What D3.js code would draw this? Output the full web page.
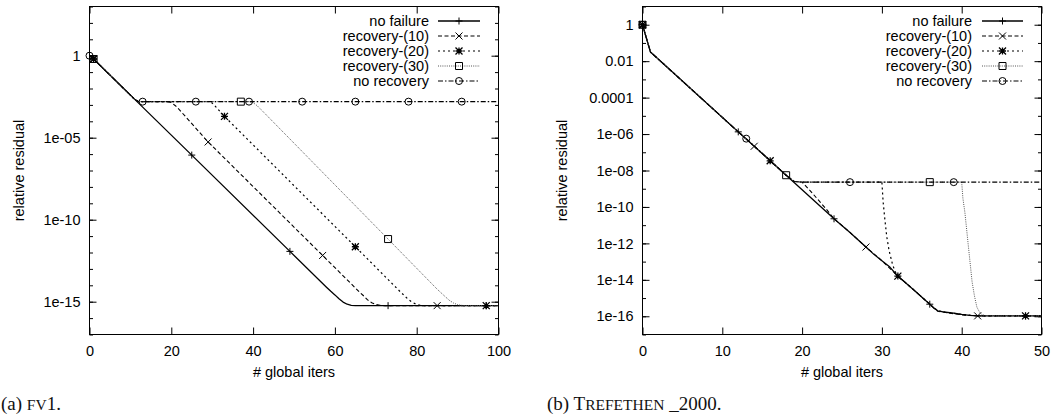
<!DOCTYPE html>
<html><head><meta charset="utf-8">
<script src="https://cdn.jsdelivr.net/npm/d3@7"></script>
<style>
body{margin:0;background:#fff}
svg{display:block}
</style>
</head><body>
<svg id="c" width="1062" height="416"></svg>
<script>
// ---------------- DATA ----------------
const seriesNames = ["no failure", "recovery-(10)", "recovery-(20)", "recovery-(30)", "no recovery"];

// (a) FV1 : [global iteration, relative residual]
const fv1NoFailure = [[1,0.63],[11,2.24e-3],[25,8.7e-7],[49,1.17e-12],[58,7.4e-15],[59,4.3e-15],[60,2.6e-15],[61,1.5e-15],[62,9.5e-16],[63,7.0e-16],[64,6.0e-16],[65,5.8e-16],[73,5.75e-16],[97,5.75e-16],[100,5.75e-16]];
const fv1Rec10 = [[1,0.63],[11,2.24e-3],[12,1.58e-3],[19,1.58e-3],[20,1.4e-3],[21,8.9e-4],[22,5.0e-4],[29,5.5e-6],[57,6.6e-13],[66,3.9e-15],[67,2.3e-15],[68,1.3e-15],[69,8.7e-16],[70,6.8e-16],[71,6.0e-16],[72,5.75e-16],[85,5.75e-16],[100,5.75e-16]];
const fv1Rec20 = [[1,0.63],[11,2.24e-3],[12,1.58e-3],[29,1.58e-3],[30,1.3e-3],[31,7.1e-4],[32,3.7e-4],[33,2.0e-4],[65,2.24e-12],[76,4.0e-15],[77,2.3e-15],[78,1.35e-15],[79,8.9e-16],[80,6.8e-16],[81,6.0e-16],[82,5.75e-16],[97,5.75e-16],[100,5.75e-16]];
const fv1Rec30 = [[1,0.63],[11,2.24e-3],[12,1.58e-3],[37,1.58e-3],[39,1.58e-3],[40,1.38e-3],[41,8.9e-4],[42,5.0e-4],[43,2.8e-4],[73,6.6e-12],[85,5.8e-15],[86,3.4e-15],[87,2.0e-15],[88,1.2e-15],[89,8.3e-16],[90,6.6e-16],[91,6.0e-16],[92,5.75e-16],[100,5.75e-16]];
const fv1NoRec = [[0,1],[1,0.63],[11,2.24e-3],[12,1.58e-3],[13,1.58e-3],[26,1.58e-3],[39,1.58e-3],[52,1.58e-3],[65,1.58e-3],[78,1.58e-3],[91,1.58e-3],[100,1.58e-3]];
const fv1MarkIters = [[1,25,49,73,97],[1,29,57,85],[1,33,65,97],[1,37,73],[0,13,26,39,52,65,78,91]];

// (b) TREFETHEN_2000
const treNoFailure = [[0,1],[1,3.16e-2],[12,1.32e-6],[18,5.5e-9],[24,2.24e-11],[26,4.0e-12],[28,6.3e-13],[29,2.5e-13],[30,1.12e-13],[31,5.0e-14],[32,1.6e-14],[34,2.8e-15],[36,4.6e-16],[36.5,2.9e-16],[37,2.0e-16],[38,1.66e-16],[39,1.5e-16],[40,1.26e-16],[41,1.12e-16],[42,1.05e-16],[48,1.05e-16],[50,1.05e-16]];
const treRec10 = [[0,1],[1,3.16e-2],[12,1.32e-6],[14,2.14e-7],[18,5.5e-9],[19,2.5e-9],[20,2.3e-9],[21,7.9e-10],[22,2.5e-10],[23,7.9e-11],[24,2.24e-11],[26,4.0e-12],[28,6.3e-13],[30,1.12e-13],[32,1.6e-14],[34,2.8e-15],[36,4.6e-16],[36.5,2.8e-16],[37,1.9e-16],[38,1.6e-16],[40,1.2e-16],[42,1.05e-16],[50,1.05e-16]];
const treRec20 = [[0,1],[1,3.16e-2],[12,1.32e-6],[16,3.4e-8],[18,5.5e-9],[19,2.5e-9],[20,2.3e-9],[30,2.3e-9],[30.15,2.0e-10],[30.35,2.5e-11],[30.6,2.5e-12],[30.9,4.0e-13],[31.3,8.0e-14],[31.6,3.2e-14],[32,1.6e-14],[34,2.8e-15],[36,4.6e-16],[36.5,2.9e-16],[37,2.0e-16],[38,1.66e-16],[40,1.26e-16],[42,1.05e-16],[48,1.05e-16],[50,1.05e-16]];
const treRec30 = [[0,1],[1,3.16e-2],[12,1.32e-6],[18,5.5e-9],[19,2.5e-9],[20,2.3e-9],[36,2.3e-9],[40,2.3e-9],[40.15,3.0e-10],[40.4,5.0e-11],[40.8,1.0e-12],[41.3,7.9e-15],[41.6,1.3e-15],[41.9,3.2e-16],[42.2,1.8e-16],[42.5,1.3e-16],[43,1.05e-16],[50,1.05e-16]];
const treNoRec = [[0,1],[1,3.16e-2],[12,1.32e-6],[13,5.6e-7],[18,5.5e-9],[19,2.5e-9],[20,2.3e-9],[26,2.3e-9],[39,2.3e-9],[50,2.3e-9]];
const treMarkIters = [[0,12,24,36,48],[0,14,28,42],[0,16,32,48],[0,18,36],[0,13,26,39]];

// axes
const fv1XTicks = [0, 20, 40, 60, 80, 100];
const fv1YTicks = [1, 1e-5, 1e-10, 1e-15];
const fv1YTickLabels = ["1", "1e-05", "1e-10", "1e-15"];
const fv1YDecades = [-17, 3];
const treXTicks = [0, 10, 20, 30, 40, 50];
const treYTicks = [1, 1e-2, 1e-4, 1e-6, 1e-8, 1e-10, 1e-12, 1e-14, 1e-16];
const treYTickLabels = ["1", "0.01", "0.0001", "1e-06", "1e-08", "1e-10", "1e-12", "1e-14", "1e-16"];
const treYDecades = [-17, 1];

const xTitle = "# global iters";
const yTitle = "relative residual";
// captions: [prefix, small-caps part, suffix]
const capA = ["(a) ", "", "FV", "1."];
const capB = ["(b) ", "T", "REFETHEN", " _2000."];

// ---------------- STYLE ----------------
const FONT = '"Liberation Sans", Arial, Helvetica, sans-serif';
const SERIF = '"Liberation Serif", "DejaVu Serif", serif';
const FS = 14.5;
const styles = [
  {dash: null, width: 1.3, color: "#000", sym: "plus"},
  {dash: "4,2.5", width: 1.1, color: "#000", sym: "cross"},
  {dash: "2,3", width: 1.2, color: "#000", sym: "star"},
  {dash: "1,1.2", width: 1.0, color: "#555", sym: "square"},
  {dash: "5,2,1.5,2", width: 1.1, color: "#000", sym: "circle"}
];

const svg = d3.select("#c");

function drawSym(g, type, cx, cy, s) {
  const t = `translate(${cx},${cy})`;
  const plus = `M${-s},0H${s}M0,${-s}V${s}`;
  const cross = `M${-s},${-s}L${s},${s}M${-s},${s}L${s},${-s}`;
  if (type === "circle") {
    g.append("circle").attr("cx", cx).attr("cy", cy).attr("r", s)
      .attr("fill", "none").attr("stroke", "#000").attr("stroke-width", 1);
    return;
  }
  let d;
  if (type === "plus") d = plus;
  else if (type === "cross") d = cross;
  else if (type === "star") d = plus + cross;
  else d = `M${-s},${-s}H${s}V${s}H${-s}Z`;
  g.append("path").attr("transform", t).attr("d", d)
    .attr("fill", "none").attr("stroke", "#000").attr("stroke-width", type === "star" ? 1.3 : 1);
}

function panel(o) {
  const x = d3.scaleLinear().domain([o.xTicks[0], o.xTicks[o.xTicks.length - 1]]).range([o.l, o.r]);
  const y = d3.scaleLog().domain([Math.pow(10, o.dec[0]), Math.pow(10, o.dec[1])]).range([o.b, o.t]);
  const g = svg.append("g");
  const minor = d3.range(o.dec[0], o.dec[1] + 1).map(e => Math.pow(10, e));

  const style = sel => {
    sel.select(".domain").remove();
    sel.attr("font-family", FONT).attr("font-size", FS);
    sel.selectAll("text").attr("fill", "#000");
    sel.selectAll("line").attr("stroke", "#000");
  };
  g.append("g").attr("transform", `translate(${o.l},0)`)
    .call(d3.axisLeft(y).tickValues(minor).tickFormat("").tickSize(-3.5)).call(style);
  g.append("g").attr("transform", `translate(${o.r},0)`)
    .call(d3.axisRight(y).tickValues(minor).tickFormat("").tickSize(-3.5)).call(style);
  g.append("g").attr("transform", `translate(${o.l},0)`)
    .call(d3.axisLeft(y).tickValues(o.yTicks).tickFormat((d, i) => o.yLabels[i]).tickSize(-7).tickPadding(9)).call(style);
  g.append("g").attr("transform", `translate(${o.r},0)`)
    .call(d3.axisRight(y).tickValues(o.yTicks).tickFormat("").tickSize(-7)).call(style);
  g.append("g").attr("transform", `translate(0,${o.b})`)
    .call(d3.axisBottom(x).tickValues(o.xTicks).tickFormat(d3.format("d")).tickSize(-7).tickPadding(11)).call(style);
  g.append("g").attr("transform", `translate(0,${o.t})`)
    .call(d3.axisTop(x).tickValues(o.xTicks).tickFormat("").tickSize(-7)).call(style);

  g.append("rect").attr("x", o.l).attr("y", o.t).attr("width", o.r - o.l).attr("height", o.b - o.t)
    .attr("fill", "none").attr("stroke", "#000").attr("stroke-width", 1);

  g.append("text").attr("x", (o.l + o.r) / 2).attr("y", 377).attr("text-anchor", "middle")
    .attr("font-family", FONT).attr("font-size", FS).text(xTitle);
  g.append("text").attr("transform", `translate(${o.yTitleX},${(o.t + o.b) / 2}) rotate(-90)`)
    .attr("text-anchor", "middle").attr("dy", "0.35em")
    .attr("font-family", FONT).attr("font-size", FS).text(yTitle);

  const line = d3.line().x(d => x(d[0])).y(d => y(d[1]));
  o.series.forEach((s, i) => {
    const st = styles[i];
    g.append("path").datum(s).attr("d", line).attr("fill", "none")
      .attr("stroke", st.color).attr("stroke-width", st.width)
      .attr("stroke-linejoin", "round")
      .attr("stroke-dasharray", st.dash);
  });
  o.series.forEach((s, i) => {
    const mg = g.append("g");
    o.marks[i].forEach(it => {
      const p = s.find(d => d[0] === it);
      if (p) drawSym(mg, styles[i].sym, x(p[0]), y(p[1]), 3.5);
    });
  });

  seriesNames.forEach((name, i) => {
    const st = styles[i];
    const yy = o.legY0 + i * 15;
    g.append("text").attr("x", o.legText).attr("y", yy).attr("dy", "0.35em")
      .attr("text-anchor", "end").attr("font-family", FONT).attr("font-size", FS).text(name);
    g.append("line").attr("x1", o.legX1).attr("x2", o.legX2).attr("y1", yy).attr("y2", yy)
      .attr("stroke", st.color).attr("stroke-width", st.width).attr("stroke-dasharray", st.dash);
    drawSym(g, st.sym, (o.legX1 + o.legX2) / 2, yy, 3.5);
  });

  const cap = svg.append("text").attr("x", o.capX).attr("y", 410)
    .attr("font-family", SERIF).attr("font-size", 19).attr("fill", "#111");
  cap.append("tspan").text(o.cap[0]);
  if (o.cap[1]) cap.append("tspan").text(o.cap[1]);
  cap.append("tspan").attr("font-size", 15.5).text(o.cap[2]);
  cap.append("tspan").text(o.cap[3]);
}

panel({
  l: 89.5, r: 498.5, t: 6.5, b: 334.5,
  xTicks: fv1XTicks, yTicks: fv1YTicks, yLabels: fv1YTickLabels, dec: fv1YDecades,
  series: [fv1NoFailure, fv1Rec10, fv1Rec20, fv1Rec30, fv1NoRec], marks: fv1MarkIters,
  yTitleX: 19, legText: 429, legX1: 438, legX2: 480, legY0: 21,
  capX: 1, cap: capA
});
panel({
  l: 642.5, r: 1041.5, t: 6.5, b: 334.5,
  xTicks: treXTicks, yTicks: treYTicks, yLabels: treYTickLabels, dec: treYDecades,
  series: [treNoFailure, treRec10, treRec20, treRec30, treNoRec], marks: treMarkIters,
  yTitleX: 562, legText: 972, legX1: 982, legX2: 1023, legY0: 21,
  capX: 547, cap: capB
});
</script>
</body></html>
